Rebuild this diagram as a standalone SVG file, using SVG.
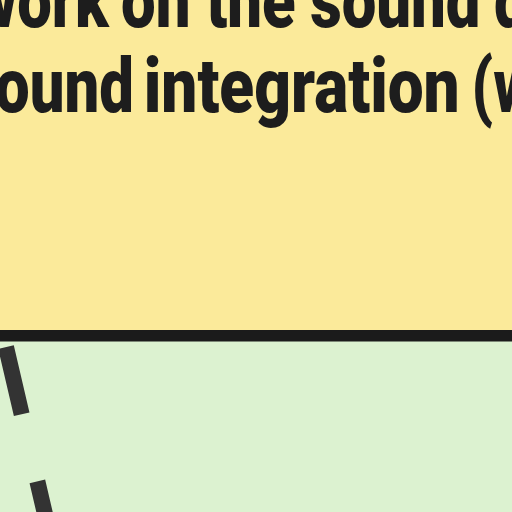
<svg xmlns="http://www.w3.org/2000/svg" width="512" height="512" viewBox="0 0 512 512">
<style>
.lbl{font-family:Roboto,"Liberation Sans",sans-serif;font-weight:900;font-size:76px;fill:#1d1d1d}
</style>
<g id="node-yellow"><rect x="0" y="0" width="512" height="336" fill="#fbea9a"/>
<g transform="scale(0.81,1)"><text class="lbl" y="27"><tspan x="-34">work</tspan> <tspan x="149.5">on</tspan> <tspan x="254.5">the</tspan> <tspan x="383">sound</tspan> <tspan x="610">design</tspan></text><text class="lbl" y="112"><tspan x="-45">sound</tspan> <tspan x="177.5" textLength="390" lengthAdjust="spacingAndGlyphs">integration</tspan> <tspan x="582">(w</tspan></text></g></g>
<g id="node-green"><rect x="0" y="336" width="512" height="176" fill="#dcf2d0"/></g>
<rect x="0" y="330" width="512" height="11.5" fill="#1b1b1b"/>
<g id="connectors"><line x1="6" y1="347" x2="48.7" y2="530" stroke="#333333" stroke-width="16" stroke-dasharray="69 69"/></g>
</svg>
